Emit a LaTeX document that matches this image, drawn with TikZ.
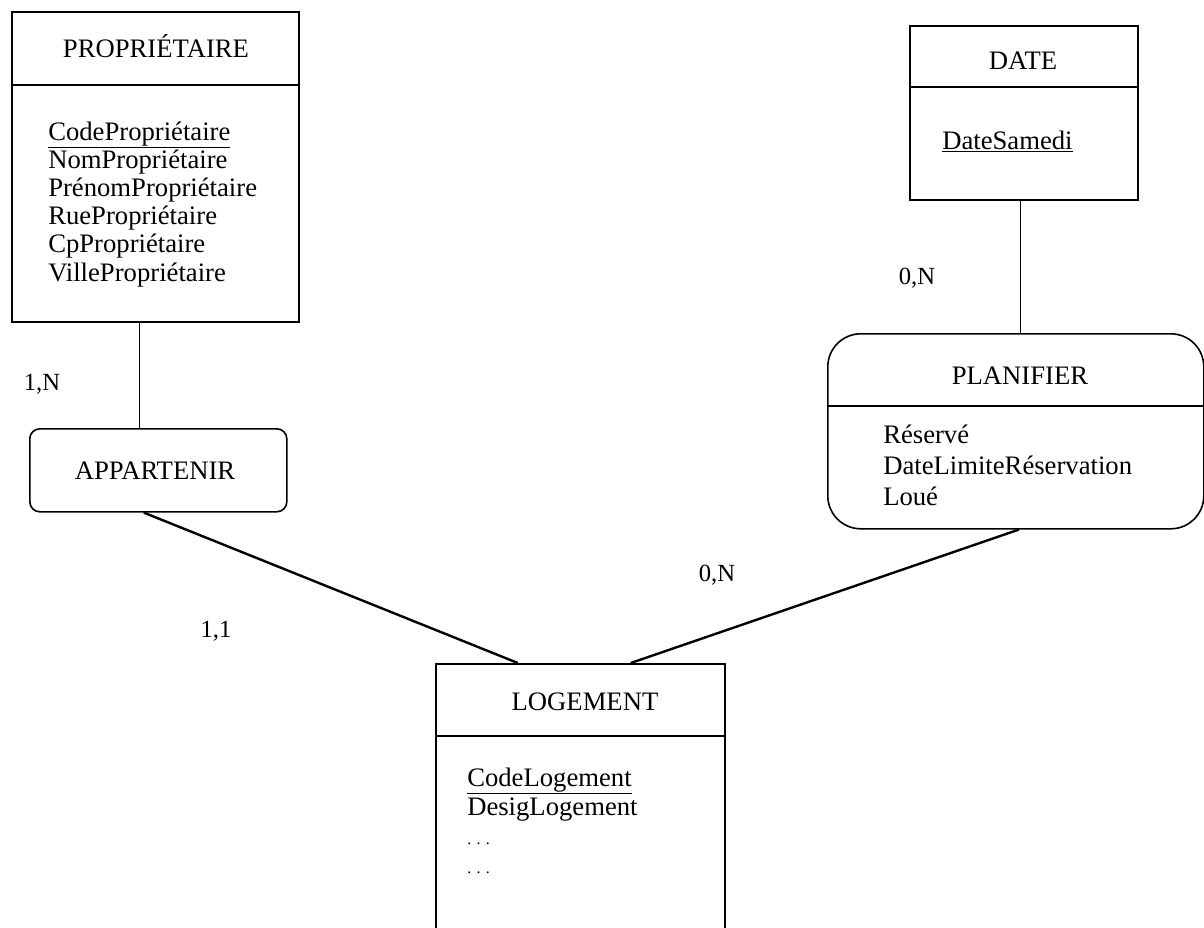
\documentclass[tikz,border=0pt]{standalone}
\usepackage{fontspec}
\setmainfont{Liberation Serif}
\newdimen\pxu \pxu=0.75pt
\begin{document}
\begin{tikzpicture}[x=0.75pt,y=-0.75pt,
  ent/.style={draw, line width=1.2pt, inner sep=0pt, anchor=north west},
  rel/.style={draw, line width=1.2pt, inner sep=0pt, anchor=north west},
  ttl/.style={anchor=base, inner sep=0pt, font=\fontsize{20}{22}\selectfont},
  attr/.style={anchor=base west, inner sep=0pt, font=\fontsize{20}{22}\selectfont},
  card/.style={anchor=base, inner sep=0pt, font=\fontsize{18.5}{20}\selectfont},
  sep/.style={line width=1.2pt},
  thin link/.style={line width=1pt},
  thick link/.style={line width=1.8pt}]
\useasboundingbox (0,0) rectangle (1204,928);

% PROPRIETAIRE
\node[ent, minimum width=287\pxu, minimum height=310\pxu] (prop) at (11,11) {};
\draw[sep] (prop.west |- 0,85) -- (prop.east |- 0,85);
\node[ttl] (propt) at (156,57) {PROPRIÉTAIRE};
\node[attr] (pa1) at (48,140) {\underline{CodePropriétaire}};
\node[attr] (pa2) at (48,168.2) {NomPropriétaire};
\node[attr] (pa3) at (48,196.4) {PrénomPropriétaire};
\node[attr] (pa4) at (48,224.6) {RuePropriétaire};
\node[attr] (pa5) at (48,252.8) {CpPropriétaire};
\node[attr] (pa6) at (48,281) {VillePropriétaire};

% APPARTENIR
\node[rel, rounded corners=10\pxu, minimum width=257\pxu, minimum height=83\pxu] (app) at (29,428) {};
\node[ttl] (appt) at (155,479) {APPARTENIR};

% DATE
\node[ent, minimum width=228\pxu, minimum height=174\pxu] (date) at (909,25) {};
\draw[sep] (date.west |- 0,87) -- (date.east |- 0,87);
\node[ttl] (datet) at (1023,69) {DATE};
\node[attr] (da1) at (942,149) {\underline{DateSamedi}};

% PLANIFIER
\node[rel, rounded corners=33\pxu, minimum width=376\pxu, minimum height=195\pxu] (plan) at (827,333) {};
\draw[sep] (plan.west |- 0,406) -- (plan.east |- 0,406);
\node[ttl] (plant) at (1020,384) {PLANIFIER};
\node[attr] (pl1) at (883,443) {Réservé};
\node[attr] (pl2) at (883,474) {DateLimiteRéservation};
\node[attr] (pl3) at (883,505) {Loué};

% LOGEMENT
\node[ent, minimum width=289\pxu, minimum height=290\pxu] (log) at (435,663) {};
\draw[sep] (log.west |- 0,736) -- (log.east |- 0,736);
\node[ttl] (logt) at (585,710) {LOGEMENT};
\node[attr] (la1) at (467,786) {\underline{CodeLogement}};
\node[attr] (la2) at (467,815.3) {DesigLogement};
\node[attr, font=\fontsize{12}{14}\selectfont] (la3) at (467,844.6) {. . .};
\node[attr, font=\fontsize{12}{14}\selectfont] (la4) at (467,873.9) {. . .};

% connectors
\draw[thin link] ([xshift=-15.5\pxu]prop.south) -- ([xshift=-15.5\pxu]prop.south |- app.north);
\draw[thick link] ([xshift=-14.5\pxu]app.south) -- ([xshift=-62.5\pxu]log.north);
\draw[thick link] ([xshift=3\pxu]plan.south) -- ([xshift=50.5\pxu]log.north);
\draw[thin link] ([xshift=-3\pxu]date.south) -- ([xshift=-3\pxu]date.south |- plan.north);

% cardinalities
\node[card] (c1) at (42,390) {1,N};
\node[card] (c2) at (216,637) {1,1};
\node[card] (c3) at (717,581) {0,N};
\node[card] (c4) at (917,284) {0,N};
\end{tikzpicture}
\end{document}
